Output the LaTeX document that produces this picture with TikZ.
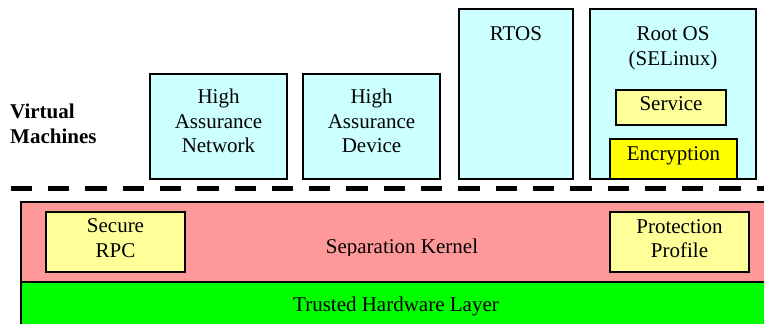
\documentclass[tikz,border=0pt]{standalone}
\usepackage{fontspec}
\setmainfont{Liberation Serif}
\definecolor{vmcyan}{HTML}{CCFFFF}
\definecolor{paleyellow}{HTML}{FFFF99}
\definecolor{brightyellow}{HTML}{FFFF00}
\definecolor{kernelpink}{HTML}{FF9999}
\definecolor{hwgreen}{HTML}{00FF00}
\begin{document}
\begin{tikzpicture}[x=1pt, y=-1pt,
  box/.style={draw=black, line width=1.6pt, inner sep=0pt, outer sep=0pt, anchor=north west},
  vmbox/.style={box, fill=vmcyan},
  svcbox/.style={box, fill=paleyellow},
  layer/.style={box, line width=1.8pt},
  txt/.style={inner sep=0pt, anchor=base, font=\fontsize{21}{24.5}\selectfont},
  headtxt/.style={txt, anchor=base west, font=\fontsize{21}{24.5}\selectfont\bfseries}
]
\useasboundingbox (0,0) rectangle (764,324);

% platform layers
\node[layer, fill=kernelpink, minimum width=749pt, minimum height=80pt] (kernel) at (21,202) {};
\node[layer, fill=hwgreen, minimum width=749pt, minimum height=48pt] (hw) at (21,282) {};
\begin{scope}
  \clip (300,205) rectangle (520,255);
  \node[txt] (kerneltxt) at (402,253) {Separation Kernel};
\end{scope}
\node[txt] (hwtxt) at (396,311) {Trusted Hardware Layer};

% kernel services
\node[svcbox, minimum width=139pt, minimum height=60pt] (rpc) at (46,212) {};
\node[txt] (rpc1) at (115.5,232) {Secure};
\node[txt] (rpc2) at (115.5,257) {RPC};
\node[svcbox, minimum width=139pt, minimum height=60pt] (pp) at (610,212) {};
\node[txt] (pp1) at (679.5,233) {Protection};
\node[txt] (pp2) at (679.5,257) {Profile};

% boundary between the kernel and the virtual machines
\coordinate (dashL) at (10.7,188);
\coordinate (dashR) at (770,188);
\draw[line width=5pt, dash pattern=on 21.3pt off 16pt] (dashL) -- (dashR);

% virtual machines
\node[headtxt] (vm1) at (10,118) {Virtual};
\node[headtxt] (vm2) at (10,143) {Machines};

\node[vmbox, minimum width=137pt, minimum height=105pt] (han) at (150,74) {};
\node[txt] (han1) at (218.5,103) {High};
\node[txt] (han2) at (218.5,128) {Assurance};
\node[txt] (han3) at (218.5,152) {Network};

\node[vmbox, minimum width=137pt, minimum height=105pt] (had) at (303,74) {};
\node[txt] (had1) at (371.5,103) {High};
\node[txt] (had2) at (371.5,128) {Assurance};
\node[txt] (had3) at (371.5,152) {Device};

\node[vmbox, minimum width=114pt, minimum height=170pt] (rtos) at (459,9) {};
\node[txt] (rtostxt) at (516,41) {RTOS};

\node[vmbox, minimum width=166pt, minimum height=170pt] (root) at (590,9) {};
\node[txt] (root1) at (673,41) {Root OS};
\node[txt] (root2) at (673,65) {(SELinux)};

\node[svcbox, minimum width=110pt, minimum height=35pt] (svc) at (616,90) {};
\node[txt] (svctxt) at (671,110) {Service};

\node[box, fill=brightyellow, line width=2.6pt, minimum width=127pt, minimum height=40pt] (enc) at (610,139) {};
\node[txt] (enctxt) at (673.5,160) {Encryption};
\end{tikzpicture}
\end{document}
